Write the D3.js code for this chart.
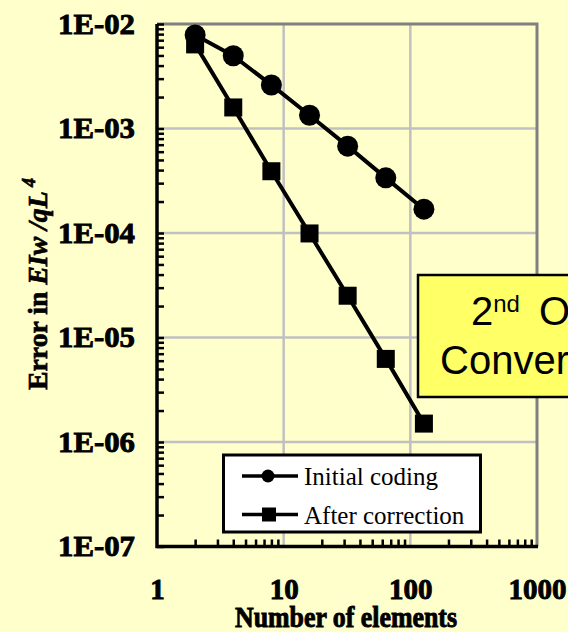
<!DOCTYPE html>
<html><head><meta charset="utf-8">
<script src="https://cdn.jsdelivr.net/npm/d3@7"></script>
<style>
html,body{margin:0;padding:0;background:#FFFFCC;}
svg{display:block;}
</style></head>
<body>
<script>
const elements = [2, 4, 8, 16, 32, 64, 128];
const initialCoding = [7.85e-3, 4.97e-3, 2.61e-3, 1.34e-3, 6.78e-4, 3.37e-4, 1.69e-4];
const afterCorrection = [6.38e-3, 1.59e-3, 3.9e-4, 9.9e-5, 2.51e-5, 6.24e-6, 1.50e-6];
const xTicks = [1, 10, 100, 1000];
const xTickLabels = ["1", "10", "100", "1000"];
const yTicks = [1e-2, 1e-3, 1e-4, 1e-5, 1e-6, 1e-7];
const yTickLabels = ["1E-02", "1E-03", "1E-04", "1E-05", "1E-06", "1E-07"];
const seriesNames = ["Initial coding", "After correction"];

const W = 568, H = 632;
const svg = d3.select("body").append("svg").attr("width", W).attr("height", H);
svg.append("rect").attr("width", W).attr("height", H).attr("fill", "#FFFFCC");

const L = 157, R = 537, T = 24, B = 546.5;
const x = d3.scaleLog().domain([1, 1000]).range([L, R]);
const y = d3.scaleLog().domain([1e-7, 1e-2]).range([B, T]);
const serif = "'Liberation Serif','Times New Roman',serif";

// minor tick values
const xMinor = [], yMinor = [];
for (let d = 1; d < 1000; d *= 10) for (let k = 2; k <= 9; k++) xMinor.push(d * k);
for (let d = 1e-7; d < 1e-2 * 0.99; d *= 10) for (let k = 2; k <= 9; k++) yMinor.push(d * k);

// gridlines
const grid = svg.append("g").attr("stroke", "#C0C0C0").attr("stroke-width", 2.5);
xTicks.slice(1, -1).forEach(v => grid.append("line").attr("x1", x(v)).attr("x2", x(v)).attr("y1", T).attr("y2", B));
yTicks.slice(1, -1).forEach(v => grid.append("line").attr("x1", L).attr("x2", R).attr("y1", y(v)).attr("y2", y(v)));

// top & right border
svg.append("path").attr("d", `M${L},${T}H${R}V${B}`).attr("fill", "none").attr("stroke", "#808080").attr("stroke-width", 3);

// minor ticks via axes (inward)
const yAx = svg.append("g").attr("transform", `translate(${L},0)`)
  .call(d3.axisRight(y).tickValues(yMinor.concat(yTicks)).tickSize(7).tickFormat(""));
yAx.select(".domain").remove();
yAx.selectAll("line").attr("stroke", "#000").attr("stroke-width", 2.5);
const xAx = svg.append("g").attr("transform", `translate(0,${B})`)
  .call(d3.axisTop(x).tickValues(xMinor).tickSize(7).tickFormat(""));
xAx.select(".domain").remove();
xAx.selectAll("line").attr("stroke", "#000").attr("stroke-width", 2.5);

// axis lines
svg.append("path").attr("d", `M${L},${T}V${B}H${R + 1}`).attr("fill", "none").attr("stroke", "#000").attr("stroke-width", 3.5);

// tick labels
const yLab = svg.append("g").attr("transform", `translate(${L},0)`)
  .call(d3.axisLeft(y).tickValues(yTicks).tickSize(0).tickPadding(22).tickFormat((d, i) => yTickLabels[i]));
yLab.select(".domain").remove();
yLab.selectAll("text").attr("font-family", serif).attr("font-weight", "bold")
  .attr("font-size", 30).attr("dy", "0.3em").attr("fill", "#000").attr("stroke", "#000").attr("stroke-width", 0.9)
  .attr("textLength", 77).attr("lengthAdjust", "spacingAndGlyphs");

const xLab = svg.append("g").attr("transform", `translate(0,${B})`)
  .call(d3.axisBottom(x).tickValues(xTicks).tickSize(0).tickPadding(32).tickFormat((d, i) => xTickLabels[i]));
xLab.select(".domain").remove();
xLab.selectAll("text").attr("font-family", serif).attr("font-weight", "bold")
  .attr("font-size", 29).attr("dy", "0.7em").attr("fill", "#000").attr("stroke", "#000").attr("stroke-width", 0.9);

// axis titles
svg.append("text").attr("x", 346).attr("y", 627).attr("text-anchor", "middle")
  .attr("font-family", serif).attr("font-weight", "bold")
  .attr("font-size", 29).attr("fill", "#000").attr("stroke", "#000").attr("stroke-width", 0.9)
  .attr("textLength", 222).attr("lengthAdjust", "spacingAndGlyphs")
  .text("Number of elements");

const yt = svg.append("text").attr("transform", "translate(47,284) rotate(-90)").attr("text-anchor", "middle")
  .attr("font-family", serif).attr("font-weight", "bold")
  .attr("font-size", 28).attr("fill", "#000").attr("stroke", "#000").attr("stroke-width", 0.7)
  .attr("textLength", 212).attr("lengthAdjust", "spacingAndGlyphs");
yt.append("tspan").text("Error in ");
yt.append("tspan").attr("font-style", "italic").text("EIw /qL");
yt.append("tspan").attr("font-style", "italic").attr("font-size", 18).attr("dy", -12).text(" 4");

// series lines and markers
const line = d3.line().x((d, i) => x(elements[i])).y(d => y(d));
svg.append("path").datum(afterCorrection).attr("d", line).attr("fill", "none").attr("stroke", "#000").attr("stroke-width", 4).attr("stroke-linejoin", "round");
svg.append("path").datum(initialCoding).attr("d", line).attr("fill", "none").attr("stroke", "#000").attr("stroke-width", 4).attr("stroke-linejoin", "round");
svg.append("g").selectAll("rect").data(afterCorrection).join("rect")
  .attr("x", (d, i) => x(elements[i]) - 9).attr("y", d => y(d) - 9).attr("width", 18).attr("height", 18).attr("fill", "#000");
svg.append("g").selectAll("circle").data(initialCoding).join("circle")
  .attr("cx", (d, i) => x(elements[i])).attr("cy", d => y(d)).attr("r", 10.5).attr("fill", "#000");

// legend
const lg = svg.append("g");
lg.append("rect").attr("x", 223.5).attr("y", 455).attr("width", 257).attr("height", 77)
  .attr("fill", "#FFFFFF").attr("stroke", "#000").attr("stroke-width", 3);
const legY = [476, 514.5];
seriesNames.forEach((name, i) => {
  lg.append("line").attr("x1", 242).attr("x2", 298).attr("y1", legY[i]).attr("y2", legY[i]).attr("stroke", "#000").attr("stroke-width", 3.5);
  if (i === 0) lg.append("circle").attr("cx", 268).attr("cy", legY[i]).attr("r", 6.5).attr("fill", "#000");
  else lg.append("rect").attr("x", 262).attr("y", legY[i] - 7).attr("width", 14).attr("height", 14).attr("fill", "#000");
  lg.append("text").attr("x", 304).attr("y", legY[i] + 9).attr("font-family", serif)
    .attr("font-size", 25).attr("fill", "#000").text(name);
});

// annotation box
const ab = svg.append("g");
ab.append("rect").attr("x", 418).attr("y", 275).attr("width", 300).attr("height", 122)
  .attr("fill", "#FFFF66").attr("stroke", "#000").attr("stroke-width", 2.5);
const t1 = ab.append("text").attr("x", 471).attr("y", 325).attr("font-family", "Arial,'Liberation Sans',sans-serif")
  .attr("font-size", 40).attr("fill", "#000");
t1.append("tspan").text("2");
t1.append("tspan").attr("font-size", 24).attr("dy", -13).text("nd");
t1.append("tspan").attr("dy", 13).attr("x", 539).text("Order");
ab.append("text").attr("x", 440).attr("y", 374).attr("font-family", "Arial,'Liberation Sans',sans-serif")
  .attr("font-size", 40).attr("fill", "#000").text("Convergence");
</script>
</body></html>
